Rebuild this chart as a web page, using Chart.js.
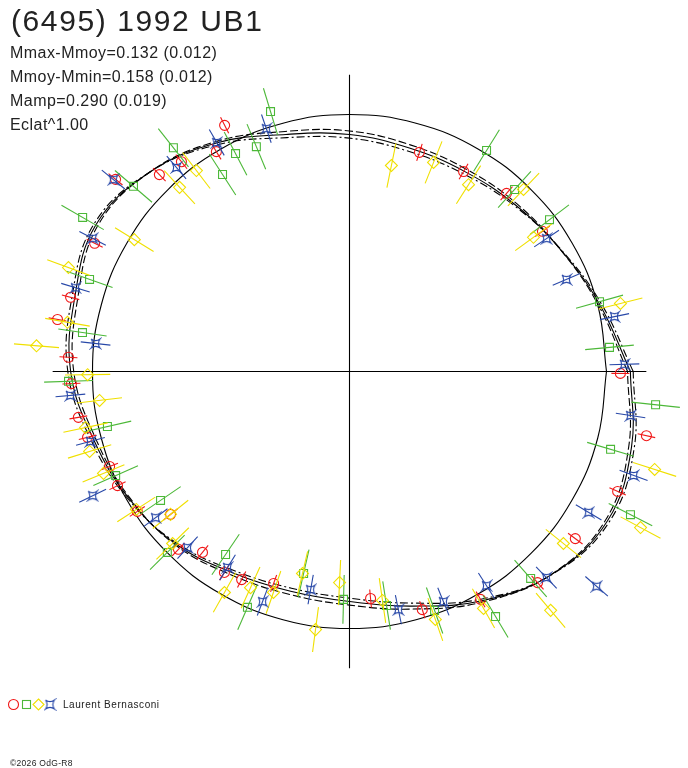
<!DOCTYPE html>
<html>
<head>
<meta charset="utf-8">
<title>(6495) 1992 UB1</title>
<script src="https://cdn.jsdelivr.net/npm/chart.js@4.4.0/dist/chart.umd.min.js"></script>
<style>
    body { margin: 0; background: #fff; }
    #wrap { position: relative; width: 688px; height: 768px; overflow: hidden; }
    #chart { position: absolute; left: 0; top: 0; }
    .txt { position: absolute; font-family: "Liberation Sans", Arial, sans-serif; color: #222; white-space: nowrap; }
</style>
</head>
<body>
<div id="wrap">
    <canvas id="chart" width="688" height="768"></canvas>
    <div class="txt" style="left:11px; top:6px; font-size:30px; line-height:30px; letter-spacing:1.6px;">(6495) 1992 UB1</div>
    <div class="txt" style="left:10px; top:44.8px; font-size:16px; line-height:16px; letter-spacing:0.45px;">Mmax-Mmoy=0.132 (0.012)</div>
    <div class="txt" style="left:10px; top:68.7px; font-size:16px; line-height:16px; letter-spacing:0.45px;">Mmoy-Mmin=0.158 (0.012)</div>
    <div class="txt" style="left:10px; top:92.6px; font-size:16px; line-height:16px; letter-spacing:0.45px;">Mamp=0.290 (0.019)</div>
    <div class="txt" style="left:10px; top:116.5px; font-size:16px; line-height:16px; letter-spacing:0.45px;">Eclat^1.00</div>
    <div class="txt" style="left:63px; top:700.2px; font-size:10px; line-height:10px; letter-spacing:0.55px;">Laurent Bernasconi</div>
    <div class="txt" style="left:10px; top:758.8px; font-size:8.5px; line-height:8.5px; letter-spacing:0.3px;">©2026 OdG-R8</div>
</div>
<script>
// Phases (degrés) et flux relatifs
const redPhase = [116.9, 121.2, 128.7, 134.0, 140.6, 153.3, 165.1, 169.9, 177.1, 182.5, 189.6, 194.1, 201.6, 206.2, 213.4, 218.6, 226.1, 230.9, 238.1, 242.6, 250.3, 275.3, 287.0, 299.9, 311.7, 323.5, 335.9, 347.8, 359.6, 36.0, 48.6, 60.3, 72.3];
const redFlux = [1.074, 1.000, 1.046, 1.065, 1.178, 1.110, 1.123, 1.154, 1.095, 1.083, 1.070, 1.051, 1.004, 1.006, 0.989, 0.891, 0.960, 0.907, 0.921, 0.912, 0.876, 0.887, 0.969, 1.023, 1.100, 1.093, 1.143, 1.182, 1.054, 0.928, 0.924, 0.896, 0.895];

const greenPhase = [106.9, 112.5, 117.6, 122.8, 128.2, 139.4, 150.0, 160.5, 171.7, 182.0, 192.8, 204.0, 214.3, 224.8, 235.9, 246.6, 257.2, 268.5, 279.0, 289.6, 300.8, 311.2, 333.0, 343.4, 353.8, 5.3, 15.6, 37.2, 47.8, 58.2];
const greenFlux = [1.057, 0.947, 0.957, 0.912, 1.108, 1.107, 1.199, 1.073, 1.050, 1.094, 0.966, 0.996, 0.890, 0.999, 0.860, 1.000, 0.806, 0.887, 0.922, 0.987, 1.110, 1.070, 1.227, 1.060, 1.198, 1.016, 1.010, 0.977, 0.956, 1.012];

const yellowPhase = [127.3, 132.7, 148.5, 159.7, 170.1, 175.3, 180.7, 186.6, 192.0, 197.1, 202.5, 212.9, 218.6, 224.2, 240.5, 245.4, 251.0, 256.9, 262.5, 267.3, 278.2, 289.1, 299.5, 310.1, 321.2, 331.8, 342.2, 14.1, 36.1, 46.3, 57.5, 68.1, 78.5];
const yellowFlux = [0.983, 0.975, 0.982, 1.166, 1.114, 1.222, 1.019, 0.979, 1.050, 1.058, 1.036, 0.988, 0.891, 0.960, 0.988, 0.925, 0.909, 0.807, 1.013, 0.822, 0.900, 1.021, 1.059, 1.215, 1.068, 1.285, 1.247, 1.087, 0.886, 0.980, 0.862, 0.877, 0.818];

const bluePhase = [108.9, 120.1, 130.3, 140.9, 152.6, 163.0, 173.7, 184.9, 195.1, 205.8, 217.0, 227.4, 238.1, 249.3, 259.9, 281.6, 292.2, 302.6, 313.7, 319.0, 329.5, 339.9, 351.1, 1.5, 11.7, 23.0, 34.0];
const blueFlux = [0.999, 1.030, 1.041, 1.184, 1.126, 1.115, 0.994, 1.090, 1.044, 1.110, 0.945, 0.931, 0.898, 0.957, 0.862, 0.946, 0.967, 0.989, 1.109, 1.274, 1.080, 1.177, 1.107, 1.070, 1.053, 0.917, 0.925];

// Barres d'erreur (demi-longueur, flux relatif) par série
const errRed = 0.035, errGreen = 0.095, errYellow = 0.088, errBlue = 0.058;

// Courbe ajustée et ses deux enveloppes
const fitPhase = [0, 15, 30, 45, 60, 75, 90, 105, 120, 135, 150, 165, 180, 195, 210, 225, 240, 255, 270, 285, 300, 315, 330, 345];
const fitFlux = [1.093, 1.008, 0.948, 0.915, 0.898, 0.900, 0.922, 0.955, 1.028, 1.098, 1.140, 1.107, 1.085, 1.030, 0.990, 0.952, 0.905, 0.885, 0.895, 0.945, 1.030, 1.115, 1.160, 1.136];
const fitUpper = [1.082, 1.002, 0.948, 0.922, 0.909, 0.913, 0.936, 0.967, 1.034, 1.098, 1.132, 1.095, 1.073, 1.021, 0.986, 0.956, 0.915, 0.898, 0.909, 0.957, 1.036, 1.114, 1.152, 1.125];
const fitLower = [1.104, 1.015, 0.950, 0.910, 0.888, 0.887, 0.908, 0.942, 1.020, 1.098, 1.148, 1.118, 1.096, 1.040, 0.994, 0.947, 0.895, 0.873, 0.882, 0.933, 1.023, 1.116, 1.168, 1.147];

// Niveau moyen (cercle) et longueur des axes
const meanFlux = 1.0;
const axisHalf = 1.155;

const COLORS = {
    red: '#f01818',
    green: '#4cb838',
    yellow: '#f0e000',
    blue: '#2848a8'
};

// Conversion polaire -> cartésien
function toXY(phases, fluxes) {
    return phases.map((deg, i) => {
        const a = deg * Math.PI / 180;
        return { x: fluxes[i] * Math.cos(a), y: fluxes[i] * Math.sin(a), phase: deg, flux: fluxes[i] };
    });
}

function closedCurve(phases, fluxes) {
    const pts = toXY(phases, fluxes);
    pts.push(pts[0]);
    return pts;
}

// Marqueur "étoile" bleu
function makeStar(color) {
    const c = document.createElement('canvas');
    c.width = 13;
    c.height = 13;
    const ctx = c.getContext('2d');
    const m = 6.5, s = 4.5, k = 1.2;
    ctx.strokeStyle = color;
    ctx.lineWidth = 1.1;
    ctx.beginPath();
    ctx.moveTo(m - s, m - s);
    ctx.quadraticCurveTo(m, m - k, m + s, m - s);
    ctx.quadraticCurveTo(m + k, m, m + s, m + s);
    ctx.quadraticCurveTo(m, m + k, m - s, m + s);
    ctx.quadraticCurveTo(m - k, m, m - s, m - s);
    ctx.stroke();
    return c;
}
const starImg = makeStar(COLORS.blue);

// Barres d'erreur radiales dessinées juste avant chaque série
const errorBars = {
    id: 'errorBars',
    beforeDatasetDraw(chart, args) {
        const ds = chart.data.datasets[args.index];
        if (!ds.errBar) return;
        const xs = chart.scales.x, ys = chart.scales.y;
        const ctx = chart.ctx;
        ctx.save();
        ctx.strokeStyle = ds.borderColor;
        ctx.lineWidth = 1.1;
        ds.data.forEach(p => {
            const a = p.phase * Math.PI / 180;
            const c = Math.cos(a), s = Math.sin(a);
            const r0 = p.flux - ds.errBar, r1 = p.flux + ds.errBar;
            ctx.beginPath();
            ctx.moveTo(xs.getPixelForValue(r0 * c), ys.getPixelForValue(r0 * s));
            ctx.lineTo(xs.getPixelForValue(r1 * c), ys.getPixelForValue(r1 * s));
            ctx.stroke();
        });
        ctx.restore();
    }
};

// Légende des symboles en bas à gauche
const symbolLegend = {
    id: 'symbolLegend',
    afterDraw(chart) {
        const ctx = chart.ctx;
        const y = 704.5;
        ctx.save();
        ctx.lineWidth = 1.1;
        ctx.strokeStyle = COLORS.red;
        ctx.beginPath();
        ctx.arc(13.5, y, 5, 0, Math.PI * 2);
        ctx.stroke();
        ctx.strokeStyle = COLORS.green;
        ctx.strokeRect(22.5, y - 4, 8, 8);
        ctx.strokeStyle = COLORS.yellow;
        ctx.beginPath();
        ctx.moveTo(38.5, y - 5.5);
        ctx.lineTo(44, y);
        ctx.lineTo(38.5, y + 5.5);
        ctx.lineTo(33, y);
        ctx.closePath();
        ctx.stroke();
        ctx.drawImage(starImg, 50 - 6.5, y - 6.5);
        ctx.restore();
    }
};

function seriesDataset(phases, fluxes, color, style, radius, err) {
    return {
        data: toXY(phases, fluxes),
        borderColor: color,
        backgroundColor: 'rgba(0,0,0,0)',
        pointStyle: style,
        pointRadius: radius,
        pointBorderWidth: 1.1,
        showLine: false,
        errBar: err,
        order: 1
    };
}

function curveDataset(points, dash, tension) {
    return {
        data: points,
        borderColor: '#000',
        borderWidth: 1.1,
        borderDash: dash,
        pointRadius: 0,
        showLine: true,
        tension: tension,
        fill: false,
        order: 2
    };
}

const circlePts = closedCurve(fitPhase, fitPhase.map(() => meanFlux));

new Chart(document.getElementById('chart'), {
    type: 'scatter',
    data: {
        datasets: [
            seriesDataset(bluePhase, blueFlux, COLORS.blue, starImg, 5, errBlue),
            seriesDataset(yellowPhase, yellowFlux, COLORS.yellow, 'rectRot', 6, errYellow),
            seriesDataset(greenPhase, greenFlux, COLORS.green, 'rect', 5.6, errGreen),
            seriesDataset(redPhase, redFlux, COLORS.red, 'circle', 5, errRed),
            curveDataset(closedCurve(fitPhase, fitFlux), [], 0.4),
            curveDataset(closedCurve(fitPhase, fitUpper), [8, 3], 0.4),
            curveDataset(closedCurve(fitPhase, fitLower), [8, 3, 2, 3], 0.4),
            curveDataset(circlePts, [], 0.4),
            curveDataset([{ x: -axisHalf, y: 0 }, { x: axisHalf, y: 0 }], [], 0),
            curveDataset([{ x: 0, y: -axisHalf }, { x: 0, y: axisHalf }], [], 0)
        ]
    },
    options: {
        responsive: false,
        animation: false,
        events: [],
        layout: { padding: 0, autoPadding: false },
        scales: {
            x: { type: 'linear', display: false, min: -1.35992, max: 1.31712 },
            y: { type: 'linear', display: false, min: -1.54280, max: 1.44553 }
        },
        plugins: {
            legend: { display: false },
            tooltip: { enabled: false }
        }
    },
    plugins: [errorBars, symbolLegend]
});
</script>
</body>
</html>
